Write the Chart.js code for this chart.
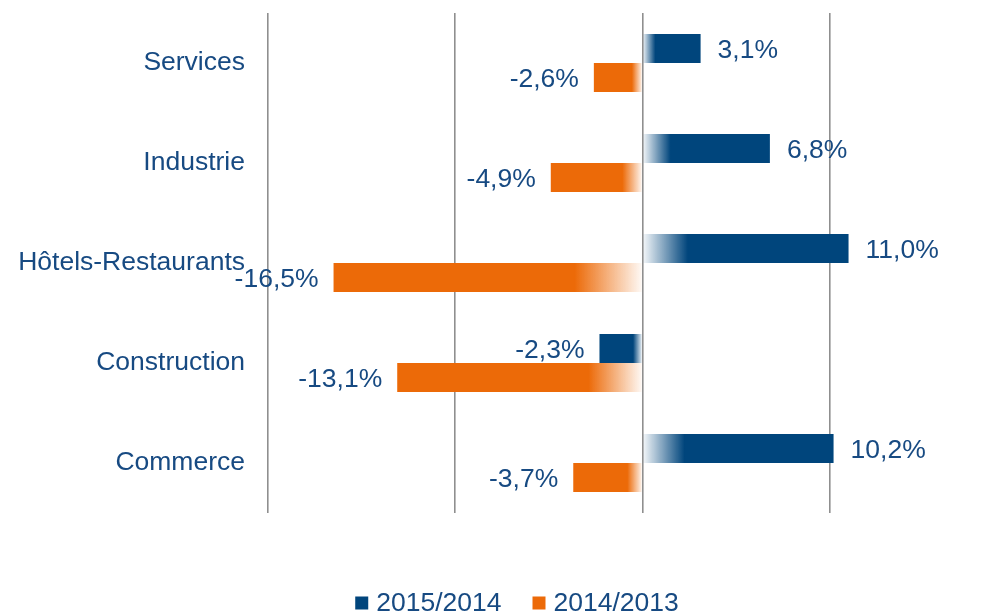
<!DOCTYPE html>
<html lang="fr">
<head>
  <meta charset="UTF-8">
  <title>Évolution par secteur</title>
  <script src="https://cdn.jsdelivr.net/npm/chart.js"></script>
  <style>
    html, body { margin: 0; padding: 0; background: #fff; }
    #wrap { width: 996px; height: 614px; }
  </style>
</head>
<body>
  <div id="wrap"><canvas id="chart"></canvas></div>
  <script>
    // données
    const categories = ['Services', 'Industrie', 'Hôtels-Restaurants', 'Construction', 'Commerce'];
    const seriesNames = ['2015/2014', '2014/2013'];
    const v2015 = [3.1, 6.8, 11.0, -2.3, 10.2];
    const v2014 = [-2.6, -4.9, -16.5, -13.1, -3.7];

    const BLUE = [0, 69, 124];
    const ORANGE = [236, 106, 8];
    const TEXT = '#174a82';
    const FONT = "'Liberation Sans', Arial, sans-serif";
    const FSIZE = 26.5;

    const rgba = (c, a) => `rgba(${c[0]},${c[1]},${c[2]},${a})`;

    // dégradé vers le blanc du côté du zéro
    function barFill(ctx, col) {
      const chart = ctx.chart;
      if (!chart.chartArea || ctx.type !== 'data') return rgba(col, 1);
      const x = chart.scales.x;
      const x0 = x.getPixelForValue(0);
      const x1 = x.getPixelForValue(ctx.raw);
      if (Math.abs(x1 - x0) < 1) return rgba(col, 1);
      const g = chart.ctx.createLinearGradient(x0, 0, x1, 0);
      g.addColorStop(0, rgba(col, 0.03));
      g.addColorStop(0.22, rgba(col, 1));
      g.addColorStop(1, rgba(col, 1));
      return g;
    }

    const valueLabels = {
      id: 'valueLabels',
      afterDatasetsDraw(chart) {
        const c = chart.ctx;
        c.save();
        c.font = `${FSIZE}px ${FONT}`;
        c.fillStyle = TEXT;
        c.textBaseline = 'middle';
        chart.data.datasets.forEach((ds, i) => {
          chart.getDatasetMeta(i).data.forEach((bar, j) => {
            const v = ds.data[j];
            const txt = v.toFixed(1).replace('.', ',') + '%';
            if (v >= 0) {
              c.textAlign = 'left';
              c.fillText(txt, bar.x + 17, bar.y + 2);
            } else {
              c.textAlign = 'right';
              c.fillText(txt, bar.x - 15, bar.y + 2);
            }
          });
        });
        c.restore();
      }
    };

    const bottomLegend = {
      id: 'bottomLegend',
      afterDraw(chart) {
        const c = chart.ctx;
        c.save();
        c.font = `${FSIZE}px ${FONT}`;
        c.textBaseline = 'middle';
        c.textAlign = 'left';
        const box = 13, gap = 8, between = 31, cy = 603;
        const items = chart.data.datasets.map(ds => ({ text: ds.label, col: ds.legendColor, w: c.measureText(ds.label).width }));
        const total = items.reduce((s, it) => s + box + gap + it.w, 0) + between * (items.length - 1);
        let x = 517 - total / 2;
        items.forEach(it => {
          c.fillStyle = it.col;
          c.fillRect(x, cy - box / 2, box, box);
          x += box + gap;
          c.fillStyle = TEXT;
          c.fillText(it.text, x, cy + 1);
          x += it.w + between;
        });
        c.restore();
      }
    };

    new Chart(document.getElementById('chart'), {
      type: 'bar',
      data: {
        labels: categories,
        datasets: [
          {
            label: seriesNames[0],
            data: v2015,
            legendColor: rgba(BLUE, 1),
            backgroundColor: ctx => barFill(ctx, BLUE),
            categoryPercentage: 0.58,
            barPercentage: 1
          },
          {
            label: seriesNames[1],
            data: v2014,
            legendColor: rgba(ORANGE, 1),
            backgroundColor: ctx => barFill(ctx, ORANGE),
            categoryPercentage: 0.58,
            barPercentage: 1
          }
        ]
      },
      options: {
        indexAxis: 'y',
        responsive: true,
        maintainAspectRatio: false,
        animation: false,
        layout: { padding: { left: 0, right: 110, top: 13, bottom: 101 } },
        plugins: {
          legend: { display: false },
          tooltip: { enabled: false }
        },
        scales: {
          x: {
            min: -20,
            max: 13,
            ticks: { display: false, stepSize: 10 },
            afterBuildTicks: s => { s.ticks = s.ticks.filter(t => t.value % 10 === 0); },
            afterFit: s => { s.height = 0; s.paddingLeft = 0; s.paddingRight = 0; },
            grid: { color: '#8f8f8f', lineWidth: 1.6, drawTicks: false },
            border: { display: false }
          },
          y: {
            afterFit: s => { s.width = 268; s.paddingTop = 0; s.paddingBottom = 0; },
            grid: { display: false, drawTicks: false },
            border: { display: false },
            ticks: { color: TEXT, font: { family: FONT, size: FSIZE }, padding: 23 }
          }
        }
      },
      plugins: [valueLabels, bottomLegend]
    });
  </script>
</body>
</html>
